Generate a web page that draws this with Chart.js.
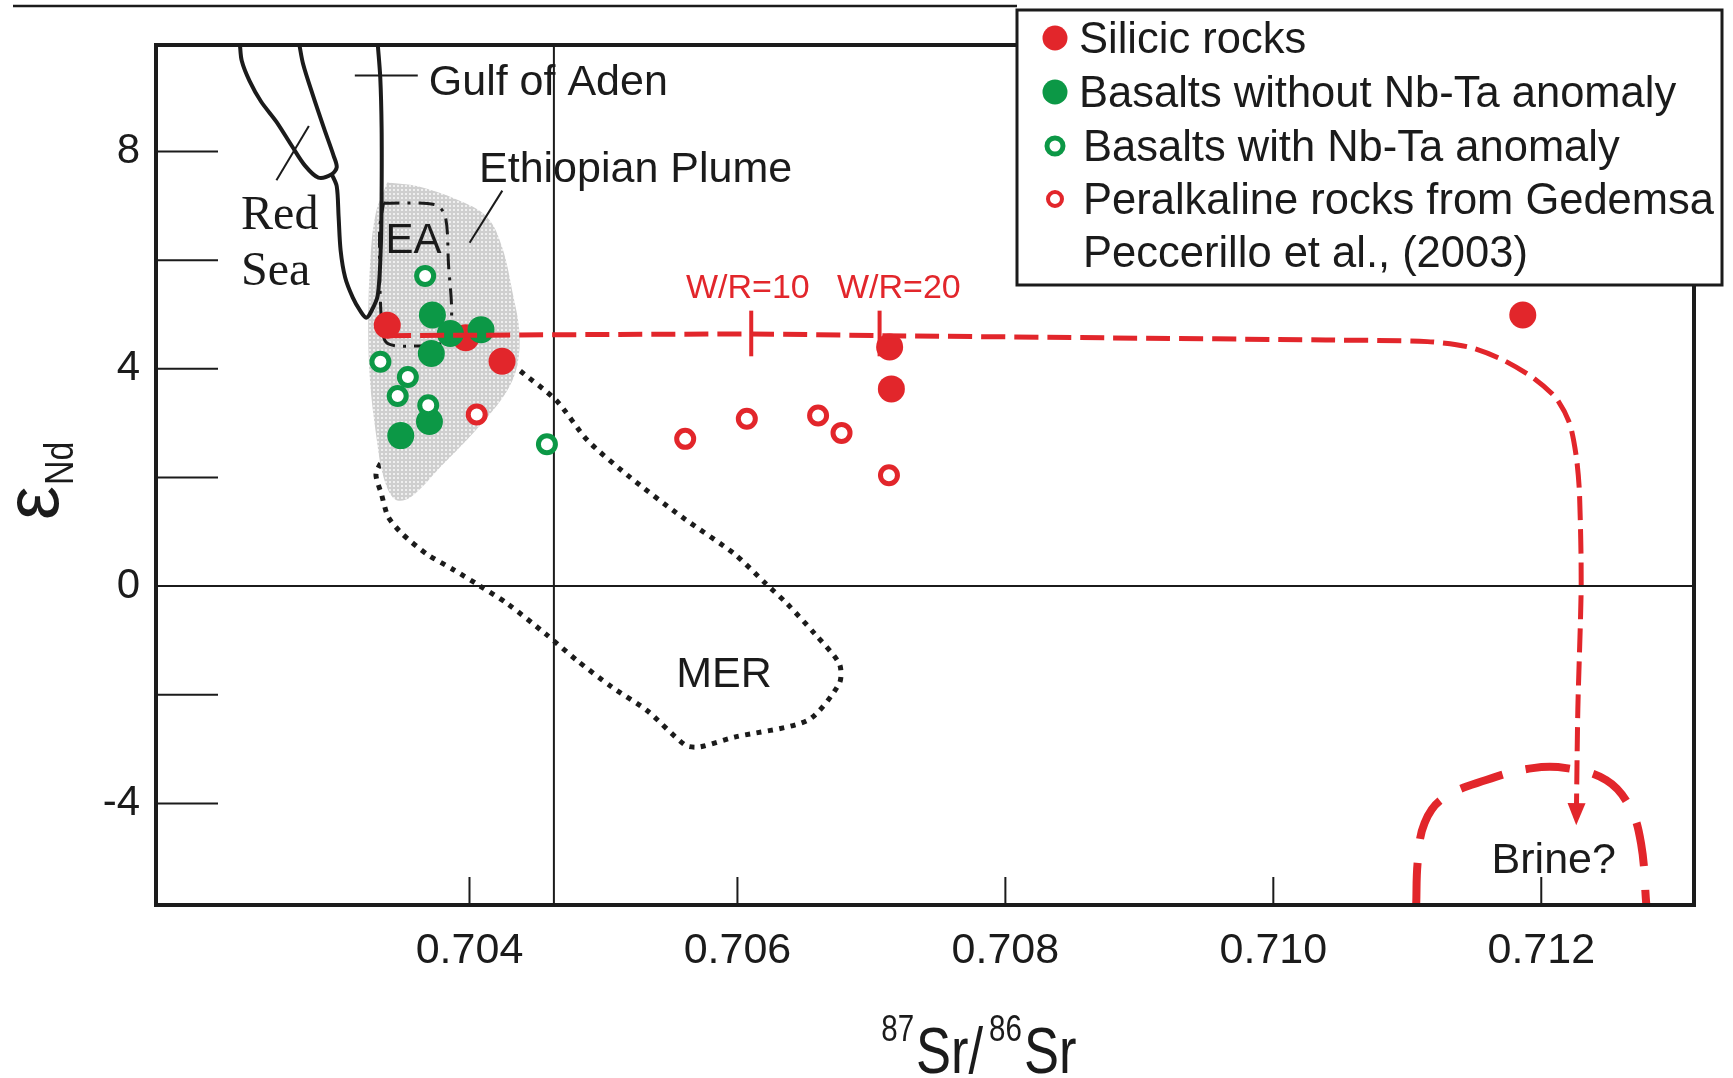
<!DOCTYPE html>
<html>
<head>
<meta charset="utf-8">
<title>Sr-Nd isotopes</title>
<script src="https://cdn.jsdelivr.net/npm/chart.js@4.4.1/dist/chart.umd.min.js"></script>
<style>
  html, body { margin: 0; padding: 0; background: #fff; }
  canvas { display: block; }
</style>
</head>
<body>
<canvas id="srnd" width="1733" height="1078"></canvas>
<script>
const SANS = "'Liberation Sans', Arial, Helvetica, sans-serif";
const SERIF = "'Liberation Serif', 'Times New Roman', serif";
const RED = '#e2262b';
const GREEN = '#0c9846';
const INK = '#1b1b1b';

// axes
const srRange = [0.70166, 0.71314];
const ndRange = [-5.87, 9.96];
const srTicks = [0.704, 0.706, 0.708, 0.710, 0.712];
const ndTicks = [-4, -2, 0, 2, 4, 6, 8];
const ndLabelled = [-4, 0, 4, 8];

const seriesNames = [
  'Silicic rocks',
  'Basalts without Nb-Ta anomaly',
  'Basalts with Nb-Ta anomaly',
  'Peralkaline rocks from Gedemsa'
];
const legendNote = 'Peccerillo et al., (2003)';

// samples: 87Sr/86Sr and eps Nd
const silicicSr = [0.703386, 0.703972, 0.704243, 0.707136, 0.707149, 0.711862];
const silicicNd = [4.80, 4.57, 4.14, 4.40, 3.63, 4.99];
const basaltSr = [0.703723, 0.703857, 0.704086, 0.703715, 0.703701, 0.703487];
const basaltNd = [4.99, 4.65, 4.72, 4.28, 3.03, 2.77];
const basaltNbSr = [0.703669, 0.703335, 0.703540, 0.703464, 0.703692, 0.704578];
const basaltNbNd = [5.71, 4.13, 3.85, 3.50, 3.33, 2.61];
const gedemsaSr = [0.704054, 0.705610, 0.706070, 0.706602, 0.706777, 0.707131];
const gedemsaNd = [3.16, 2.71, 3.08, 3.14, 2.82, 2.04];

// bulk earth Sr reference
const bulkEarthSr = 0.70463;

// water/rock interaction path towards brine
const mixingPath = [
  [0.703386, 4.61], [0.706103, 4.64], [0.707093, 4.61], [0.708742, 4.57],
  [0.710392, 4.53], [0.711150, 4.50], [0.711460, 4.40], [0.711700, 4.18],
  [0.711937, 3.84], [0.712111, 3.46], [0.712211, 3.00], [0.712261, 2.39],
  [0.712285, 1.72], [0.712298, 0.03], [0.712273, -2.26], [0.712261, -4.40]
];
const wrSr = [0.706103, 0.707061];
const wrLabels = ['W/R=10', 'W/R=20'];
const wrLabelSr = [0.706078, 0.707205];
const wrSpan = [4.23, 5.07];

const brineField = [
  [0.711066, -5.90], [0.711079, -5.04], [0.711129, -4.36], [0.711266, -3.91],
  [0.711589, -3.57], [0.711937, -3.35], [0.712186, -3.35], [0.712485, -3.57],
  [0.712659, -4.06], [0.712745, -4.74], [0.712784, -5.86]
];

const redSea = [
  [0.702286, 9.98], [0.702300, 9.67], [0.702358, 9.30], [0.702444, 8.92],
  [0.702558, 8.55], [0.702672, 8.11], [0.702772, 7.74], [0.702872, 7.52],
  [0.702972, 7.58], [0.703009, 7.71], [0.702986, 7.92], [0.702915, 8.42],
  [0.702829, 9.05], [0.702758, 9.61], [0.702729, 9.98]
];
const gulfOfAden = [
  [0.702972, 7.58], [0.703009, 7.36], [0.703023, 6.80], [0.703038, 6.18],
  [0.703072, 5.68], [0.703129, 5.31], [0.703186, 5.06], [0.703229, 4.94],
  [0.703265, 5.05], [0.703315, 5.35], [0.703338, 6.24], [0.703344, 7.18],
  [0.703344, 8.43], [0.703334, 9.36], [0.703315, 9.98]
];
const ethiopianPlume = [
  [0.703386, 7.43], [0.703615, 7.36], [0.703900, 7.12], [0.704129, 6.80],
  [0.704243, 6.24], [0.704329, 5.31], [0.704372, 4.69], [0.704357, 4.06],
  [0.704272, 3.56], [0.704072, 2.94], [0.703786, 2.20], [0.703558, 1.63],
  [0.703443, 1.60], [0.703358, 2.01], [0.703301, 2.82], [0.703258, 3.75],
  [0.703244, 4.69], [0.703258, 5.93], [0.703301, 6.87], [0.703386, 7.43]
];
const eaBox = [
  [0.703358, 7.05], [0.703744, 7.02], [0.703820, 6.80], [0.703843, 5.93],
  [0.703866, 4.93], [0.703814, 4.50], [0.703586, 4.42], [0.703386, 4.47],
  [0.703344, 4.81], [0.703329, 6.55], [0.703358, 7.05]
];
const merField = [
  [0.703381, 2.44], [0.703302, 2.07], [0.703342, 1.70], [0.703394, 1.27],
  [0.703499, 0.96], [0.703681, 0.59], [0.703889, 0.29], [0.704073, 0.01],
  [0.704281, -0.32], [0.704568, -0.88], [0.704803, -1.37], [0.705064, -1.86],
  [0.705325, -2.29], [0.705612, -2.93], [0.705717, -2.96], [0.705978, -2.78],
  [0.706526, -2.47], [0.706761, -1.79], [0.706761, -1.43], [0.706578, -0.88],
  [0.706369, -0.32], [0.706213, 0.04], [0.705978, 0.59], [0.705587, 1.27],
  [0.705195, 2.01], [0.704882, 2.68], [0.704647, 3.42], [0.704360, 4.00],
  [0.704247, 4.27]
];
const leaders = [
  [[0.703144, 9.40], [0.703614, 9.40]],   // Gulf of Aden
  [[0.704001, 6.32], [0.704245, 7.28]],   // Ethiopian Plume
  [[0.702559, 7.47], [0.702801, 8.47]]    // Red Sea
];

// text placed on the plot, in data units
const notes = [
  { text: 'Gulf of Aden', sr: 0.703696, nd: 9.04, font: `43px ${SANS}`, align: 'left' },
  { text: 'Ethiopian Plume', sr: 0.704071, nd: 7.44, font: `43px ${SANS}`, align: 'left' },
  { text: 'EA', sr: 0.703373, nd: 6.14, font: `42px ${SANS}`, align: 'left' },
  { text: 'MER', sr: 0.705899, nd: -1.86, font: `43px ${SANS}`, align: 'center' },
  { text: 'Brine?', sr: 0.712093, nd: -5.28, font: `43px ${SANS}`, align: 'center' },
  { text: 'Red', sr: 0.702295, nd: 6.57, font: `48px ${SERIF}`, align: 'left' },
  { text: 'Sea', sr: 0.702295, nd: 5.54, font: `48px ${SERIF}`, align: 'left' }
];

const xy = (xs, ys) => xs.map((x, i) => ({ x, y: ys[i] }));
const pairs = arr => arr.map(([x, y]) => ({ x, y }));

const canvas = document.getElementById('srnd');
const ctx = canvas.getContext('2d');

// light grey halftone used for the plume field
const tile = document.createElement('canvas');
tile.width = 4; tile.height = 4;
const tctx = tile.getContext('2d');
tctx.fillStyle = '#cfcfcf'; tctx.fillRect(0, 0, 4, 4);
tctx.fillStyle = '#efefef'; tctx.fillRect(1, 1, 2, 2);
const stipple = ctx.createPattern(tile, 'repeat');

function path(points, opts) {
  return Object.assign({
    type: 'line', data: pairs(points), pointRadius: 0, borderColor: INK,
    borderWidth: 4, tension: 0.3, fill: false, order: 6
  }, opts);
}

const filled = (color) => ({ pointRadius: 13.5, pointBorderWidth: 0, pointBackgroundColor: color, pointBorderColor: color, showLine: false });
const hollow = (color) => ({ pointRadius: 8.5, pointBorderWidth: 5, pointBackgroundColor: '#fff', pointBorderColor: color, showLine: false });

const series = [
  Object.assign({ label: seriesNames[0], data: xy(silicicSr, silicicNd), order: 3 }, filled(RED)),
  Object.assign({ label: seriesNames[1], data: xy(basaltSr, basaltNd), order: 2 }, filled(GREEN)),
  Object.assign({ label: seriesNames[2], data: xy(basaltNbSr, basaltNbNd), order: 1 }, hollow(GREEN)),
  Object.assign({ label: seriesNames[3], data: xy(gedemsaSr, gedemsaNd), order: 4 }, hollow(RED))
];

const datasets = [
  ...series,
  path(mixingPath, { borderColor: RED, borderWidth: 5, borderDash: [24, 9], tension: 0.25, order: 0 }),
  ...wrSr.map(sr => path([[sr, wrSpan[0]], [sr, wrSpan[1]]], { borderColor: RED, borderWidth: 4, tension: 0, order: 0 })),
  path(brineField, { borderColor: RED, borderWidth: 8, borderDash: [44, 24], tension: 0.4, order: 5 }),
  path(eaBox, { borderWidth: 3, borderDash: [16, 8, 3, 8], tension: 0.3, order: 5 }),
  path(redSea, { order: 6 }),
  path(gulfOfAden, { order: 6 }),
  ...leaders.map(l => path(l, { borderWidth: 2, tension: 0, order: 6 })),
  path(ethiopianPlume, { borderWidth: 0, backgroundColor: stipple, fill: 'shape', tension: 0.35, order: 7 }),
  path([[bulkEarthSr, ndRange[0]], [bulkEarthSr, ndRange[1]]], { borderWidth: 2, tension: 0, order: 8 }),
  path(merField, { borderWidth: 5, borderDash: [5, 6.5], borderCapStyle: 'butt', tension: 0.25, order: 9 })
];

const decor = {
  id: 'decor',
  afterDatasetsDraw(chart) {
    const { ctx, chartArea: a, scales: { x, y } } = chart;
    ctx.save();

    // inward ticks, zero line and frame
    ctx.strokeStyle = INK;
    ctx.lineWidth = 2;
    ctx.beginPath();
    ndTicks.forEach(v => {
      const py = y.getPixelForValue(v);
      ctx.moveTo(a.left, py);
      ctx.lineTo(v === 0 ? a.right : a.left + 62, py);
    });
    srTicks.forEach(v => {
      const px = x.getPixelForValue(v);
      ctx.moveTo(px, a.bottom);
      ctx.lineTo(px, a.bottom - 28);
    });
    ctx.stroke();
    ctx.lineWidth = 4;
    ctx.strokeRect(a.left, a.top, a.right - a.left, a.bottom - a.top);

    // arrow head at the end of the mixing path
    const n = mixingPath.length;
    const tip = { x: x.getPixelForValue(mixingPath[n - 1][0]), y: y.getPixelForValue(mixingPath[n - 1][1]) };
    const prev = { x: x.getPixelForValue(mixingPath[n - 2][0]), y: y.getPixelForValue(mixingPath[n - 2][1]) };
    const ang = Math.atan2(tip.y - prev.y, tip.x - prev.x);
    ctx.fillStyle = RED;
    ctx.beginPath();
    ctx.moveTo(tip.x, tip.y);
    ctx.lineTo(tip.x - 22 * Math.cos(ang) + 9 * Math.sin(ang), tip.y - 22 * Math.sin(ang) - 9 * Math.cos(ang));
    ctx.lineTo(tip.x - 22 * Math.cos(ang) - 9 * Math.sin(ang), tip.y - 22 * Math.sin(ang) + 9 * Math.cos(ang));
    ctx.closePath();
    ctx.fill();

    // labels on the plot
    ctx.fillStyle = INK;
    ctx.textBaseline = 'alphabetic';
    notes.forEach(n => {
      ctx.font = n.font;
      ctx.textAlign = n.align;
      ctx.fillText(n.text, x.getPixelForValue(n.sr), y.getPixelForValue(n.nd));
    });
    ctx.fillStyle = RED;
    ctx.font = `34px ${SANS}`;
    ctx.textAlign = 'center';
    wrLabelSr.forEach((sr, i) => {
      ctx.fillText(wrLabels[i], x.getPixelForValue(sr), y.getPixelForValue(5.30));
    });
    ctx.restore();
  },
  afterDraw(chart) {
    const { ctx, chartArea: a } = chart;
    ctx.save();

    // legend box over the top right corner
    const box = { left: 1017, top: 10, width: 705, height: 275 };
    ctx.fillStyle = '#fff';
    ctx.fillRect(box.left, box.top, box.width, box.height);
    ctx.strokeStyle = INK;
    ctx.lineWidth = 3;
    ctx.strokeRect(box.left, box.top, box.width, box.height);

    // rule across the top of the figure
    ctx.lineWidth = 2.5;
    ctx.beginPath();
    ctx.moveTo(13, 6);
    ctx.lineTo(box.left, 6);
    ctx.stroke();

    const baselines = [53, 107, 161, 214, 267];
    const marks = [
      { r: 12.5, lw: 0 }, { r: 12.5, lw: 0 }, { r: 8, lw: 5 }, { r: 7, lw: 4 }
    ];
    ctx.font = `43.5px ${SANS}`;
    ctx.textAlign = 'left';
    ctx.textBaseline = 'alphabetic';
    series.forEach((s, i) => {
      const cy = baselines[i] - 15;
      const m = marks[i];
      ctx.beginPath();
      ctx.arc(box.left + 38, cy, m.r, 0, Math.PI * 2);
      if (m.lw) {
        ctx.fillStyle = '#fff'; ctx.fill();
        ctx.lineWidth = m.lw; ctx.strokeStyle = s.pointBorderColor; ctx.stroke();
      } else {
        ctx.fillStyle = s.pointBackgroundColor; ctx.fill();
      }
      ctx.fillStyle = INK;
      ctx.fillText(s.label, box.left + (i < 2 ? 62 : 66), baselines[i]);
    });
    ctx.fillText(legendNote, box.left + 66, baselines[4]);

    // y title: eps Nd
    ctx.save();
    ctx.translate(a.left - 98, (a.top + a.bottom) / 2 + 45);
    ctx.rotate(-Math.PI / 2);
    ctx.font = `76px ${SANS}`;
    ctx.fillText('ε', 0, 0);
    const ew = ctx.measureText('ε').width;
    ctx.font = `40px ${SANS}`;
    ctx.scale(0.85, 1);
    ctx.fillText('Nd', (ew + 1) / 0.85, 15);
    ctx.restore();

    // x title: 87Sr/86Sr
    const parts = [['87', 36, -32, 2], ['Sr', 64, 0, 0], ['/', 64, 0, 6], ['86', 36, -32, 2], ['Sr', 64, 0, 0]];
    const sx = 0.82;
    let total = 0;
    parts.forEach(([t, size, , gap]) => { ctx.font = `${size}px ${SANS}`; total += ctx.measureText(t).width * sx + gap; });
    let cx = a.left + (a.right - a.left) * 0.535 - total / 2;
    const base = chart.height - 5;
    parts.forEach(([t, size, dy, gap]) => {
      ctx.font = `${size}px ${SANS}`;
      const w = ctx.measureText(t).width * sx;
      ctx.save();
      ctx.translate(cx, base + dy);
      ctx.scale(sx, 1);
      ctx.fillText(t, 0, 0);
      ctx.restore();
      cx += w + gap;
    });
    ctx.restore();
  }
};

new Chart(ctx, {
  type: 'scatter',
  data: { datasets },
  options: {
    responsive: false,
    devicePixelRatio: 1,
    animation: false,
    events: [],
    layout: { padding: { top: 45, right: 39, left: 0, bottom: 0 } },
    plugins: { legend: { display: false }, tooltip: { enabled: false } },
    scales: {
      x: {
        type: 'linear', min: srRange[0], max: srRange[1],
        grid: { display: false, drawTicks: false },
        border: { display: false },
        afterBuildTicks: s => { s.ticks = srTicks.map(v => ({ value: v })); },
        afterFit: s => { s.height = 173; },
        ticks: {
          padding: 20, maxRotation: 0, autoSkip: false, color: INK,
          font: { family: SANS, size: 43 },
          callback: v => v.toFixed(3)
        }
      },
      y: {
        type: 'linear', min: ndRange[0], max: ndRange[1],
        grid: { display: false, drawTicks: false },
        border: { display: false },
        afterBuildTicks: s => { s.ticks = ndTicks.map(v => ({ value: v })); },
        afterFit: s => { s.width = 156; },
        ticks: {
          padding: 16, autoSkip: false, color: INK,
          font: { family: SANS, size: 42 },
          callback: v => ndLabelled.includes(v) ? String(v) : ''
        }
      }
    }
  },
  plugins: [decor]
});
</script>
</body>
</html>
